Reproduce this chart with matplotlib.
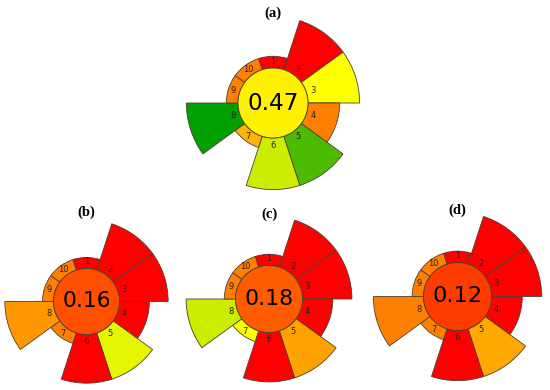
import numpy as np
import matplotlib
matplotlib.use("Agg")
import matplotlib.pyplot as plt
from matplotlib.colors import LinearSegmentedColormap

# ---- data ----
panel_labels = ["(a)", "(b)", "(c)", "(d)"]
total_scores = [0.47, 0.16, 0.18, 0.12]
criteria = ["1", "2", "3", "4", "5", "6", "7", "8", "9", "10"]
weights = [1, 5, 5, 3, 5, 5, 1, 5, 1, 1]
scores_a = [0.0, 0.0, 0.5, 0.25, 0.85, 0.6, 0.35, 1.0, 0.25, 0.25]
scores_b = [0.0, 0.0, 0.0, 0.0, 0.55, 0.0, 0.25, 0.3, 0.25, 0.25]
scores_c = [0.0, 0.0, 0.0, 0.0, 0.32, 0.0, 0.5, 0.6, 0.25, 0.25]
scores_d = [0.0, 0.0, 0.0, 0.0, 0.33, 0.0, 0.25, 0.25, 0.25, 0.25]
panel_scores = [scores_a, scores_b, scores_c, scores_d]

# ---- layout (pixels) ----
W, H = 550, 390
centers = [(273, 103), (86.5, 301.5), (269, 299), (457.5, 296.5)]
inner_px = [35, 33, 33.5, 34]
title_y = [13.5, 212, 214, 210]
RMAX = 2.7

cmap = LinearSegmentedColormap.from_list(
    "agree", [(0.0, "#FF0000"), (0.5, "#FFFF00"), (1.0, "#00A000")])

fig = plt.figure(figsize=(W / 100, H / 100), dpi=100)

n = len(criteria)
width = 2 * np.pi / n
theta = np.arange(n) * width
edge = "#4a3f35"

for k in range(4):
    cx, cy = centers[k]
    rin = inner_px[k]
    s = 2 * RMAX * rin
    ax = fig.add_axes([(cx - s / 2) / W, 1 - (cy + s / 2) / H, s / W, s / H],
                      projection="polar")
    ax.set_theta_zero_location("N")
    ax.set_theta_direction(-1)
    radii = [1.05 + 0.285 * w for w in weights]
    heights = [r - 1 for r in radii]
    cols = [cmap(v) for v in panel_scores[k]]
    ax.bar(theta, heights, width=width, bottom=1.0, color=cols,
           edgecolor=edge, linewidth=0.6, align="center")
    # central disk
    ax.bar(0, 1.0, width=2 * np.pi, bottom=0.0, color=cmap(total_scores[k]),
           edgecolor="none")
    tt = np.linspace(0, 2 * np.pi, 300)
    ax.plot(tt, np.ones_like(tt), color=edge, linewidth=0.6)
    for i, lab in enumerate(criteria):
        ax.text(theta[i], 1.2, lab, ha="center", va="center",
                fontsize=6, color="#2a2020")
    fs = 0.66 * rin * 0.72
    ax.text(0, 0, f"{total_scores[k]:.2f}", ha="center", va="center",
            fontsize=fs, color="black")
    ax.set_ylim(0, RMAX)
    ax.set_axis_off()
    # panel title
    fig.text(cx / W, 1 - title_y[k] / H, panel_labels[k],
             ha="center", va="center", fontsize=10.5, fontweight="bold",
             family="Liberation Serif")

fig.savefig("out.png", dpi=100)
